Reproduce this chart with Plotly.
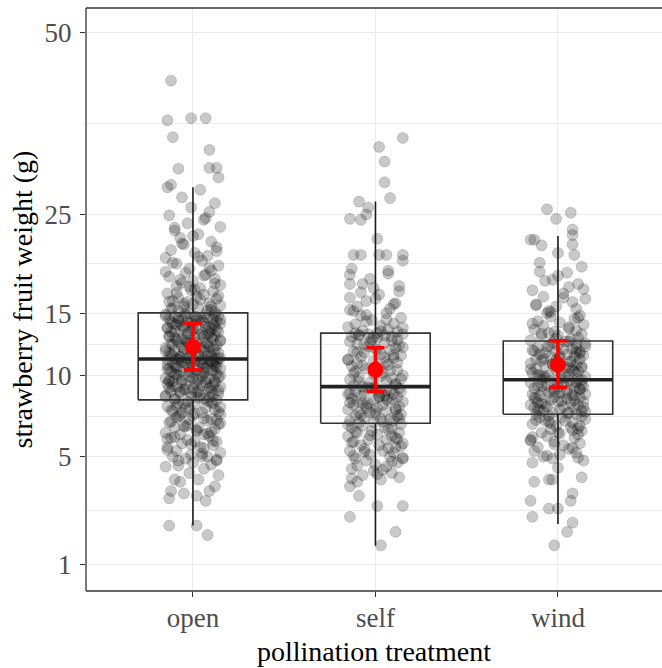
import numpy as np
import plotly.graph_objects as go

categories = ["open", "self", "wind"]

# fruit weights (g)
open_weight = [
    1.8, 2.1, 2.1, 3.0, 3.1, 3.2, 3.3, 3.4, 3.4, 3.6, 3.8, 3.9, 3.9, 4.1, 4.2, 4.4, 4.5, 4.6, 4.7, 4.8, 4.8, 4.9, 5.0, 5.0, 5.0,
    5.1, 5.2, 5.3, 5.5, 5.5, 5.6, 5.7, 5.8, 5.8, 5.9, 6.0, 6.1, 6.2, 6.2, 6.3, 6.4, 6.5, 6.6, 6.6, 6.7,
    6.8, 6.9, 7.0, 7.1, 7.1, 7.2, 7.3, 7.4, 7.5, 7.5, 7.6, 7.7, 7.8, 7.8, 7.9, 8.0, 8.1, 8.1, 8.2, 8.3,
    8.4, 8.4, 8.5, 8.5, 8.6, 8.6, 8.7, 8.8, 8.8, 8.9, 8.9, 9.0, 9.0, 9.1, 9.1, 9.2, 9.2, 9.3, 9.3, 9.4,
    9.4, 9.5, 9.5, 9.6, 9.6, 9.7, 9.7, 9.8, 9.8, 9.9, 9.9, 10.0, 10.0, 10.1, 10.1, 10.2, 10.2, 10.3, 10.3, 10.4,
    10.4, 10.5, 10.5, 10.6, 10.6, 10.6, 10.7, 10.7, 10.8, 10.8, 10.9, 10.9, 10.9, 11.0, 11.0, 11.0, 11.1, 11.1, 11.1, 11.2,
    11.2, 11.2, 11.2, 11.3, 11.3,
    11.4, 11.4, 11.5, 11.5, 11.6, 11.6, 11.7, 11.7, 11.8, 11.8, 11.9, 12.0, 12.0, 12.1, 12.1, 12.2, 12.2, 12.3, 12.4, 12.4,
    12.5, 12.5, 12.6, 12.7, 12.7, 12.8, 12.9, 12.9, 13.0, 13.0, 13.1, 13.2, 13.2, 13.3, 13.4, 13.4, 13.5, 13.5, 13.6, 13.7,
    13.7, 13.8, 13.8, 13.9, 14.0, 14.0, 14.1, 14.1, 14.2, 14.2, 14.3, 14.3, 14.4, 14.4, 14.5, 14.5, 14.6, 14.6, 14.7, 14.7,
    14.8, 14.8, 14.9, 14.9, 15.0,
    15.1, 15.2, 15.3, 15.4, 15.5, 15.6, 15.7, 15.8, 15.9, 16.0, 16.1, 16.3, 16.4, 16.5, 16.7, 16.8, 17.0, 17.1, 17.3, 17.5,
    17.6, 17.8, 18.0, 18.2, 18.4, 18.6, 18.8, 19.0, 19.2, 19.5, 19.7, 20.0, 20.3, 20.5, 20.8, 21.1, 21.4, 21.7, 22.0, 22.4,
    22.8, 23.2, 23.6, 24.0, 24.4, 24.9, 25.3, 25.8, 26.3, 27.0, 27.9, 28.2,
    28.5, 29.4, 30.5, 30.6, 30.6, 32.9, 34.6, 36.9, 37.2, 37.2, 42.6,
    5.45, 5.95, 6.35, 6.75, 7.05, 7.25, 7.45, 7.65, 7.85, 8.05, 8.25, 8.35, 8.45, 8.55, 8.65, 8.75, 8.85, 8.95, 9.05, 9.15,
    9.25, 9.35, 9.45, 9.55, 9.65, 9.75, 9.85, 9.95, 10.05, 10.15, 10.25, 10.35, 10.45, 10.55, 10.65, 10.75, 10.85, 10.95, 11.05, 11.15,
    11.25, 11.35, 11.45, 11.55, 11.65, 11.75, 11.85, 11.95, 12.05, 12.15, 12.25, 12.35, 12.45, 12.55, 12.65, 12.75, 12.85, 12.95, 13.05, 13.15,
    13.25, 13.35, 13.45, 13.55, 13.65, 13.75, 13.85, 13.95, 14.05, 14.15, 14.25, 14.35, 14.45, 14.55, 14.65, 14.75, 14.85, 14.95, 15.25, 15.45,
    15.65, 15.85, 16.05, 16.25, 16.55, 16.85, 17.15, 17.45, 17.75, 18.1, 18.5, 18.9, 19.3, 19.8, 20.4, 21.0, 21.8, 22.6, 23.5, 24.6,
    4.55, 4.85, 5.15, 5.35, 5.65, 5.85, 6.05, 6.25, 6.45, 6.65, 6.85, 6.95, 7.15, 7.35, 7.55, 7.75, 7.95, 8.15, 8.9, 9.6,
]
# horizontal jitter, hundredths of a category step
open_jitter = [
    8, -13, 2,
    7, -13, 2, -5, 9, -12, 12, -7, 3, -10, 14, -2, 6, -15, 10, 0, -8, 13, -4, 5,
    -11, 8, -1, 15, -9, 4, -14, 11, -6, 1, 13, -3, -12, 9, -7, 6, -15, 2, 12, -10,
    3, -5, 14, -13, 8, -2, 10, -9, 0, 15, -6, 5, -11, 12, -4, 7, -14, 1, 11, -8,
    -3, 13, -10, 6, -1, 9, -15, 4, 14, -7, 2, -12, 10, -5, 8, -13, 0, 15, -9, 5,
    11, -4, -14, 7, 1, -11, 12, -6, 3, -15, 9, -2, 14, -8, 5, -10, 13, -1, 6, -12,
    -7, 10, 2, -13, 15, -5, 8, -9, 0, 12, -3, -14, 6, 11, -11, 4, -6, 13, -1, 9,
    1, -9, 12, -14, 5, -3, 15, -7, 8, -11, 10, -1, 3, -13, 14, -5, 6, -10, 0, 11,
    -15, 4, 9, -6, 13, -2, -12, 7, 2, -8, 15, -4, 11, -10, 1, 6, -13, 12, -3, 8,
    5, -12, 14, -1, -7, 10, -14, 3, 9, -5, 12, -9, 0, 15, -11, 6, -3, 13, -8, 2,
    -6, 11, -13, 4, 8, -10, 1, 14, -4, -15, 7, -2, 12, -8, 10, -12, 3, -5, 15, 0,
    9, -3, -11, 13, -8, 2, 6, -14, 11, -1, 4, -9, 15, -6, 0, 12, -13, 7, -4, 10,
    -2, 14, -9, 5, -15, 8, 1, -12, 13, -5, 10, -7, 3, -10, 15, -3, 6, -13, 9, -1,
    12, -6, 4, -14,
    -12, 14, -8, 9, 13, 9, -11, -14, -1, 7, -12,
    6, -14, 10, -3, 13, -8, 1, -12, 15, -5, 8, -10, 3, -15, 11, -1, -7, 14, -4, 9,
    -11, 2, 12, -6, -13, 7, 0, 15, -9, 4, -2, 11, -14, 6, 13, -10, 5, -4, 10, -8,
    14, -7, 3, -12, 9, -1, -15, 12, -5, 6, 1, -11, 8, -3, 15, -9, -6, 10, -13, 4,
    -3, 9, -10, 13, 0, -14, 7, -6, 11, -1, -12, 5, 15, -8, 2, -15, 12, -4, 8, -11,
    10, -5, -13, 4, 14, -9, 1, -2, 12, -7, 6, -15, 9, -11, 3, 13, -6, 0, -10, 7,
    -8, 13, 5, -14, -1, 11, -10, 8, 2, -4, 15, -12, 6, -7, 14, -2, -9, 10, 3, -13,
]

self_weight = [
    1.5, 1.9, 2.4, 2.8, 2.8, 3.2, 3.6,
    3.8, 3.9, 4.0, 4.1, 4.2, 4.3, 4.4, 4.5, 4.6, 4.7, 4.8, 4.9, 4.9, 5.0, 5.1, 5.2, 5.3, 5.3, 5.4, 5.5,
    5.6, 5.6, 5.7, 5.8, 5.9, 5.9, 6.0, 6.1, 6.1, 6.2, 6.3, 6.3, 6.4, 6.5, 6.6, 6.6, 6.7, 6.8,
    6.9, 6.9, 7.0, 7.0, 7.1, 7.1, 7.2, 7.3, 7.3, 7.4, 7.4, 7.5, 7.5, 7.6, 7.7, 7.7, 7.8, 7.8, 7.9, 8.0,
    8.0, 8.1, 8.1, 8.2, 8.2, 8.3, 8.3, 8.4, 8.4, 8.5, 8.5, 8.6, 8.6, 8.7, 8.7, 8.8, 8.8, 8.9, 8.9, 9.0,
    9.0, 9.1, 9.1, 9.2, 9.2,
    9.3, 9.4, 9.5, 9.6, 9.7, 9.8, 9.9, 10.0, 10.1, 10.2, 10.3, 10.4, 10.5, 10.6, 10.7, 10.8, 10.9, 11.0, 11.1, 11.2,
    11.3, 11.4, 11.5, 11.6, 11.7, 11.8, 11.9, 12.0, 12.1, 12.2, 12.3, 12.4, 12.5, 12.6, 12.7, 12.8, 12.9, 13.0, 13.0, 13.1,
    13.1, 13.2, 13.2, 13.3, 13.3,
    13.4, 13.5, 13.6, 13.8, 13.9, 14.1, 14.3, 14.4, 14.6, 14.8, 15.0, 15.2, 15.4, 15.6, 15.9, 16.1, 16.4, 16.7, 17.0, 17.3,
    17.7,
    17.7, 18.6, 18.7, 19.2, 20.0, 20.6, 20.6, 20.6, 20.6, 20.6, 22.3, 24.4, 24.5, 25.0, 25.8, 26.5,
    26.9, 28.8, 31.4, 33.3, 34.5,
    4.15, 4.55, 4.95, 5.25, 5.45, 5.75, 5.95, 6.15, 6.35, 6.55, 6.75, 6.95, 7.15, 7.35, 7.55, 7.75, 7.95, 8.15, 8.35, 8.55,
    8.75, 8.95, 9.15, 9.35, 9.55, 9.75, 9.95, 10.15, 10.35, 10.55, 10.75, 10.95, 11.15, 11.35, 11.55, 11.75, 11.95, 12.15, 12.35, 12.55,
    12.75, 12.95, 13.15, 13.45, 13.75, 14.05, 14.45, 14.85, 15.3, 15.8, 16.3, 16.9, 17.5, 18.2, 19.0, 3.95, 4.35, 4.75, 5.05, 5.55,
]
self_jitter = [
    3, 11, -14, 1, 15, -9, -14,
    -10, 3, 13, -7, 9, -1, -13, 6, 0, 12, -5, 15, -11, 8, -3, 10, -14, 4, -6, 11,
    2, -8, 15, -12, 6, -4, 11, -15, 9, 1, -10, 13, -2, 7, -13, 5, -7, 14, -1, -9,
    10, -14, 3, 8, -6, 12, -11, 0, 14, -3, -9, 6, -15, 11, 1, -5, 13, -12, 4, -7,
    -4, 15, -10, 7, -1, 9, -13, 2, 12, -8, 5, -15, 10, -6, 3, 14, -11, 0, 8, -2,
    13, -7, 0, -12, 11, -3, 6, -14, 9, -9, 15, -1, 4, -11, 12, -5, 2, -13, 7, -10,
    6, -1, -15, 10, -8, 14, 3, -6, -12, 8, 0, 11, -4, 13, -10, 5, -14, 9, -2, 1,
    -13, 9, 5, -9, 15, -4, 1, -11, 12, -7, 7, -15, 3, 10, -5, -2, 14, -8, 6, -12,
    8, -10, 11, -5, -14, 2, 13, -1, -7,
    -14, -14, 7, -13, 15, -12, -8, 2, 6, 15, 1, -8, -14, -5, -4, -9,
    8, 5, 5, 2, 15,
    1, -10, 15, -6, 7, -13, 12, -3, -11, 9, -15, 4, 13, -8, 0, 11, -5, -14, 6, 2,
    -14, 6, -4, 11, -9, 14, 3, -12, 8, -1, -7, 12, -15, 5, 10, -10, 1, 15, -6, -3,
    12, -1, -9, 3, 15, -11, 6, -5, -14, 10, 0, -8, 13, -3, 7, -13, 4, 9, -12, 14,
]

wind_weight = [
    1.5, 1.9, 2.2, 2.4, 2.7, 2.7, 3.0, 3.0, 3.3, 3.8, 3.9, 3.9, 4.0, 4.7,
    4.8, 4.9, 5.0, 5.1, 5.2, 5.3, 5.4, 5.5, 5.6, 5.7, 5.8, 5.9, 6.0, 6.1, 6.2, 6.3, 6.3, 6.4, 6.5, 6.6,
    6.7, 6.7, 6.8, 6.9, 7.0, 7.0, 7.1, 7.2, 7.2, 7.3, 7.4,
    7.4, 7.5, 7.5, 7.6, 7.6, 7.7, 7.7, 7.8, 7.8, 7.9, 7.9, 8.0, 8.0, 8.1, 8.1, 8.2, 8.2, 8.3, 8.3, 8.4,
    8.4, 8.5, 8.5, 8.6, 8.6, 8.7, 8.7, 8.8, 8.8, 8.9, 8.9, 9.0, 9.0, 9.1, 9.1, 9.2, 9.2, 9.3, 9.3, 9.4,
    9.4, 9.5, 9.5, 9.6, 9.7,
    9.7, 9.8, 9.8, 9.9, 9.9, 10.0, 10.0, 10.1, 10.2, 10.2, 10.3, 10.4, 10.4, 10.5, 10.6, 10.6, 10.7, 10.8, 10.8, 10.9,
    11.0, 11.0, 11.1, 11.2, 11.2, 11.3, 11.4, 11.4, 11.5, 11.6, 11.6, 11.7, 11.8, 11.8, 11.9, 12.0, 12.0, 12.1, 12.2, 12.2,
    12.3, 12.4, 12.5, 12.6, 12.6,
    12.7, 12.8, 12.9, 13.0, 13.1, 13.2, 13.3, 13.4, 13.5, 13.6, 13.8, 13.9, 14.0, 14.2, 14.3, 14.5, 14.7, 14.8, 15.0, 15.2,
    15.4, 15.6, 15.8, 16.0, 16.3, 16.5, 16.8, 17.1, 17.4, 17.7, 18.1, 18.5, 18.9, 19.4,
    20.6, 20.8, 21.6, 21.7, 22.2, 22.2, 22.7, 23.3, 24.5, 25.2, 25.6,
    5.05, 5.45, 5.85, 6.25, 6.55, 6.85, 7.05, 7.25, 7.45, 7.65, 7.85, 8.05, 8.25, 8.45, 8.65, 8.85, 9.05, 9.25, 9.45, 9.65,
    9.85, 10.05, 10.25, 10.45, 10.65, 10.85, 11.05, 11.25, 11.45, 11.65, 11.85, 12.05, 12.25, 12.45, 12.85, 13.25, 13.65, 14.1, 14.6, 15.1,
    15.7, 16.4, 17.2, 18.0, 18.8, 19.8, 4.45, 4.95, 5.65, 6.05, 6.45, 6.95, 7.55, 8.15, 8.75, 9.35, 9.95, 10.55, 11.15, 11.75,
]
wind_jitter = [
    -2, 5, 8, -14, -5, 0, -15, 7, 8, -13, -3, -5, 13, -14,
    14, -3, -8, 1, 10, -13, 6, -11, 3, 12, -2, -15, 9, -6, 11, -9, 0, 13, -4, 7,
    -1, 12, -14, 8, 4, -7, 15, -10, 2, -5, 10, -12, 6, -3, 13, -8, 1, -11, 9, -13,
    3, -6, 11, -15, 7, -9, 14, 0, -4, 9, -12, 5, -2, 12, -10, 8, -14, 15, -5, 1,
    -8, 5, 12, -2, -13, 9, 0, 14, -6, -11, 7, 3, -15, 10, -4, 13, -9, 1, 11, -7,
    15, -5, -10, 6, 2, -14, 11, -1, 8, -12, 4, 13, -7, -3, 10, -15, 7, 0, -9, 12,
    -12, 1, 9, -4, 14, -10, 5, -7, 12, -1, -14, 8, 3, -11, 15, -6, 0, 10, -3, 6,
    4, -15, 7, 11, -9, 0, 13, -5, -2, 10, -13, 6, -8, 14, 1, -11, 9, -4, 12, -6,
    -5, 10, -1, -12, 8, 15, -8, 3, -14, 6, 11, -3, 0, -10, 13,
    9, 0, -9, 8, -15, -13, 8, 8, -1, 7, -6,
    -6, 8, -15, 1, 11, -4, -12, 13, 5, -10, 14, -7, 2, -13, 9, -2, 12, -9, 0, 6,
    4, -11, 9, -15, 13, -3, 7, -8, 1, 12, -13, 10, -5, 15, -1, -9, 6, -14, 11, -4,
    -12, 3, 14, -7, 5, -10, 0, 11, -2, -14, 8, -5, 15, -11, 4, 13, -8, 7, -1, 10,
]

# boxplot statistics (g): lower whisker, Q1, median, Q3, upper whisker
box_lower = [2.1, 1.49, 2.15]
box_q1 = [8.32, 6.85, 7.40]
box_median = [11.23, 9.21, 9.69]
box_q3 = [15.03, 13.29, 12.65]
box_upper = [28.2, 26.5, 22.6]

# mean with confidence interval (g)
mean_value = [12.17, 10.41, 10.78]
ci_low = [10.40, 8.87, 9.17]
ci_high = [14.13, 12.10, 12.67]

y_ticks = [1, 5, 10, 15, 25, 50]

weights = [open_weight, self_weight, wind_weight]
jitters = [open_jitter, self_jitter, wind_jitter]
for w, j in zip(weights, jitters):
    if len(w) != len(j):
        raise ValueError(f"length mismatch {len(w)} vs {len(j)}")

sq = np.sqrt
FONT = "Liberation Serif"
box_half = 0.3
BORDER = "#333333"

fig = go.Figure()

for i, (w, j) in enumerate(zip(weights, jitters)):
    fig.add_trace(go.Scatter(
        x=i + np.array(j) / 100.0, y=sq(np.array(w)), mode="markers",
        marker=dict(size=11, color="rgba(0,0,0,0.21)",
                    line=dict(width=1, color="rgba(0,0,0,0.15)")),
        hoverinfo="skip", showlegend=False))

for i in range(len(categories)):
    q1, q3 = sq(box_q1[i]), sq(box_q3[i])
    fig.add_trace(go.Scatter(
        x=[i - box_half, i + box_half, i + box_half, i - box_half, i - box_half],
        y=[q1, q1, q3, q3, q1], mode="lines",
        line=dict(color="#333333", width=1.6), hoverinfo="skip", showlegend=False))
    fig.add_trace(go.Scatter(
        x=[i, i, None, i, i],
        y=[q3, sq(box_upper[i]), None, q1, sq(box_lower[i])], mode="lines",
        line=dict(color="#1a1a1a", width=1.6), hoverinfo="skip", showlegend=False))
    fig.add_trace(go.Scatter(
        x=[i - box_half, i + box_half], y=[sq(box_median[i])] * 2, mode="lines",
        line=dict(color="#222222", width=3.6), hoverinfo="skip", showlegend=False))

m = sq(np.array(mean_value))
fig.add_trace(go.Scatter(
    x=list(range(len(categories))), y=m, mode="markers",
    marker=dict(size=16, color="#FF0000"),
    error_y=dict(type="data", symmetric=False,
                 array=sq(np.array(ci_high)) - m,
                 arrayminus=m - sq(np.array(ci_low)),
                 color="#FF0000", thickness=3.5, width=9),
    hoverinfo="skip", showlegend=False))

major = sq(np.array(y_ticks, dtype=float))
minor = (major[:-1] + major[1:]) / 2

# panel border: left, bottom and top (right edge lies outside the picture)
for x0, y0, x1, y1 in [(0, 0, 0, 1), (0, 0, 1, 0), (0, 1, 1, 1)]:
    fig.add_shape(type="line", xref="paper", yref="paper", x0=x0, y0=y0, x1=x1, y1=y1,
                  line=dict(color=BORDER, width=1.3), layer="above")

fig.update_layout(
    width=662, height=668,
    margin=dict(l=86, r=0, t=8, b=77),
    plot_bgcolor="white", paper_bgcolor="white",
    font=dict(family=FONT, color="#000000"),
    xaxis=dict(
        range=[-0.586, 2.57], tickmode="array",
        tickvals=list(range(len(categories))), ticktext=categories,
        showgrid=True, gridcolor="#ebebeb", gridwidth=1.2, zeroline=False,
        ticks="outside", ticklen=5, tickcolor=BORDER, tickwidth=1.2,
        ticklabelstandoff=-2,
        tickfont=dict(family=FONT, size=27, color="#4d4d4d"),
        showline=False,
        title=dict(text="pollination treatment", font=dict(family=FONT, size=28, color="#000000"),
                   standoff=8),
    ),
    yaxis=dict(
        range=[0.703, 7.356], tickmode="array",
        tickvals=list(major), ticktext=[str(t) for t in y_ticks],
        showgrid=True, gridcolor="#ebebeb", gridwidth=1.2, zeroline=False,
        minor=dict(tickvals=list(minor), showgrid=True, gridcolor="#ebebeb", gridwidth=0.7, ticks=""),
        ticks="outside", ticklen=5, tickcolor=BORDER, tickwidth=1.2,
        ticklabelstandoff=3,
        tickfont=dict(family=FONT, size=27, color="#4d4d4d"),
        showline=False,
        title=dict(text="strawberry fruit weight (g)", font=dict(family=FONT, size=28, color="#000000"),
                   standoff=3),
    ),
)

fig.write_html("out.html", config={"displayModeBar": False},
               post_script="document.body.style.margin='0px';")
